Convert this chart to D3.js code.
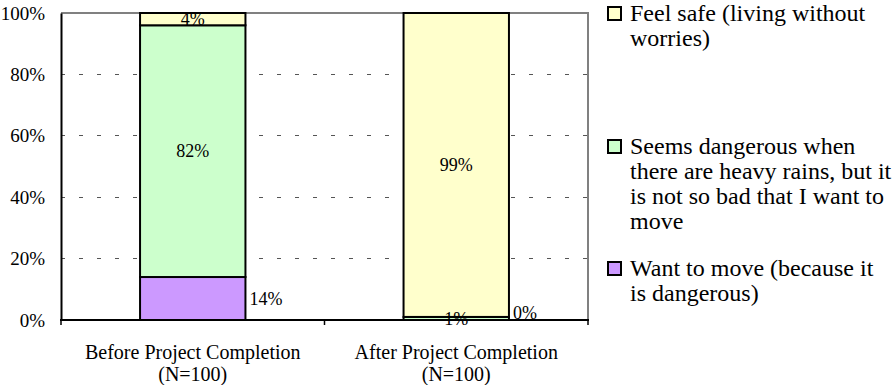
<!DOCTYPE html>
<html>
<head>
<meta charset="utf-8">
<script src="https://cdn.jsdelivr.net/npm/d3@7"></script>
<style>
  html, body { margin: 0; padding: 0; background: #fff; }
  svg { display: block; }
  text { font-family: "Liberation Serif", "Times New Roman", serif; fill: #000; }
</style>
</head>
<body>
<svg id="chart" width="893" height="385"></svg>
<script>
// Survey groups (x axis)
const categories = ["Before Project Completion", "After Project Completion"];
const categorySub = ["(N=100)", "(N=100)"];

// Answer options, stacked bottom to top
const seriesNames = [
  "Want to move (because it is dangerous)",
  "Seems dangerous when there are heavy rains, but it is not so bad that I want to move",
  "Feel safe (living without worries)"
];
const wantToMove = [14, 0];
const seemsDangerous = [82, 1];
const feelSafe = [4, 99];

const yTicks = [0, 20, 40, 60, 80, 100];

const colors = ["#CC99FF", "#CCFFCC", "#FFFFCC"];

// Legend text, already broken into lines (top to bottom order)
const legendLines = [
  ["Feel safe (living without", "worries)"],
  ["Seems dangerous when", "there are heavy rains, but it", "is not so bad that I want to", "move"],
  ["Want to move (because it", "is dangerous)"]
];

const svg = d3.select("#chart");
const margin = { left: 61, right: 305, top: 13, bottom: 65 };
const W = 893, H = 385;
const x0 = margin.left, x1 = W - margin.right, y0 = H - margin.bottom, y1 = margin.top;

const x = d3.scaleBand().domain(categories).range([x0, x1]).paddingInner(0.6).paddingOuter(0.3);
const y = d3.scaleLinear().domain([0, 100]).range([y0, y1]);

// Build stack from the series arrays
const rows = categories.map((c, i) => ({
  cat: c, s0: wantToMove[i], s1: seemsDangerous[i], s2: feelSafe[i]
}));
const stack = d3.stack().keys(["s0", "s1", "s2"])(rows);

// dashed grid lines
svg.append("g")
  .selectAll("line")
  .data(yTicks.filter(t => t > 0 && t < 100))
  .join("line")
  .attr("x1", x0).attr("x2", x1)
  .attr("y1", d => y(d)).attr("y2", d => y(d))
  .attr("stroke", "#555").attr("stroke-width", 1)
  .attr("stroke-dasharray", "4,14")
  .attr("shape-rendering", "crispEdges");

// plot frame: top and right in grey
svg.append("path")
  .attr("d", `M${x0},${y1}H${x1}V${y0}`)
  .attr("fill", "none").attr("stroke", "#808080").attr("stroke-width", 2);

// bars
const barG = svg.append("g");
stack.forEach((layer, k) => {
  barG.selectAll(null)
    .data(layer)
    .join("rect")
    .attr("x", d => x(d.data.cat))
    .attr("width", x.bandwidth())
    .attr("y", d => y(d[1]))
    .attr("height", d => y(d[0]) - y(d[1]))
    .attr("fill", colors[k])
    .attr("stroke", "#000")
    .attr("stroke-width", 2);
});

// axes
const yAxis = d3.axisLeft(y).tickValues(yTicks).tickFormat(d => d + "%").tickSize(0).tickPadding(16);
const yg = svg.append("g").attr("transform", `translate(${x0},0)`).call(yAxis);
yg.select(".domain").attr("stroke", "#000").attr("stroke-width", 2);
yg.selectAll("text").attr("font-size", 19).attr("font-family", "Liberation Serif");

const xg = svg.append("g").attr("transform", `translate(0,${y0})`);
xg.append("line").attr("x1", x0 - 1).attr("x2", x1 + 1).attr("y1", 0).attr("y2", 0)
  .attr("stroke", "#000").attr("stroke-width", 2);
// category boundary ticks
const bounds = [x0, (x0 + x1) / 2, x1];
xg.selectAll(".tk").data(bounds).join("line")
  .attr("x1", d => d).attr("x2", d => d).attr("y1", 0).attr("y2", 5)
  .attr("stroke", "#000").attr("stroke-width", 1.5);

const xl = xg.selectAll(".cat").data(categories).join("text")
  .attr("text-anchor", "middle")
  .attr("font-size", 20)
  .attr("x", d => x(d) + x.bandwidth() / 2);
xl.append("tspan").attr("x", d => x(d) + x.bandwidth() / 2).attr("y", 39).text(d => d);
xl.append("tspan").attr("x", d => x(d) + x.bandwidth() / 2).attr("y", 61).text((d, i) => categorySub[i]);

// value labels
const labG = svg.append("g").attr("font-size", 18);
stack.forEach((layer, k) => {
  layer.forEach(d => {
    const v = d[1] - d[0];
    const cx = x(d.data.cat) + x.bandwidth() / 2;
    const cy = (y(d[0]) + y(d[1])) / 2;
    const t = labG.append("text").attr("dy", "0.35em").text(v + "%");
    if (k === 0) {
      t.attr("x", x(d.data.cat) + x.bandwidth() + 4).attr("y", Math.min(cy, y0 - 7));
    } else {
      t.attr("x", cx).attr("y", cy).attr("text-anchor", "middle");
    }
  });
});

// legend
const lg = svg.append("g").attr("transform", "translate(607,0)");
const legendTop = [13, 146, 268];
const legendColors = [colors[2], colors[1], colors[0]];
legendLines.forEach((lines, i) => {
  const g = lg.append("g").attr("transform", `translate(0,${legendTop[i]})`);
  g.append("rect").attr("x", 1).attr("y", -6).attr("width", 13).attr("height", 13)
    .attr("fill", legendColors[i]).attr("stroke", "#000").attr("stroke-width", 2);
  const t = g.append("text").attr("font-size", 24);
  lines.forEach((ln, j) => {
    t.append("tspan").attr("x", 23).attr("y", j * 25).attr("dy", "0.35em").text(ln);
  });
});
</script>
</body>
</html>
